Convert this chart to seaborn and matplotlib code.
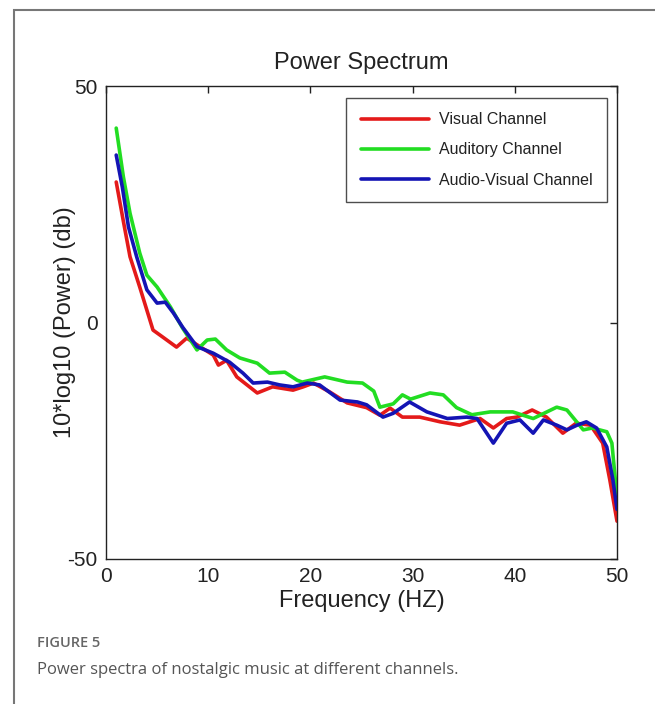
import matplotlib
matplotlib.use("Agg")
import matplotlib.pyplot as plt
import seaborn as sns
import pandas as pd
from matplotlib.patches import Rectangle

# ---- data ----
visual_x = [1.0, 1.7, 2.35, 3.3, 4.6, 5.5, 6.9, 7.9, 8.9, 10.5, 11.0, 11.8, 12.8, 14.8, 16.3, 18.3,
            19.3, 20.3, 21.9, 23.6, 25.5, 26.8, 27.8, 29.0, 30.7, 32.7, 34.6, 36.6, 37.9, 39.2,
            40.2, 41.7, 43.1, 44.7, 46.0, 47.4, 48.6, 49.3, 50.0]
visual_y = [29.7, 21.4, 13.9, 7.5, -1.6, -3.0, -5.2, -3.3, -4.7, -6.9, -9.0, -8.0, -11.5, -14.9, -13.6, -14.3,
            -13.6, -12.8, -14.7, -17.0, -18.0, -19.6, -18.1, -20.0, -20.0, -21.0, -21.7, -20.3, -22.3, -20.3,
            -20.0, -18.5, -20.0, -23.4, -21.3, -21.7, -25.5, -33.3, -42.0]

auditory_x = [1.0, 1.7, 2.35, 3.3, 4.0, 5.0, 6.3, 7.5, 8.9, 9.9, 10.7, 11.8, 13.1, 14.8, 16.0, 17.5,
              18.7, 19.2, 21.4, 23.6, 25.1, 26.2, 26.8, 28.1, 29.0, 29.8, 31.7, 33.0, 34.3, 35.8,
              37.6, 39.8, 41.8, 44.1, 45.1, 46.7, 47.6, 49.0, 49.5, 50.0]
auditory_y = [41.1, 30.8, 23.1, 14.7, 10.0, 7.5, 3.3, -1.2, -5.8, -3.7, -3.5, -5.8, -7.5, -8.6, -10.7, -10.5,
              -12.2, -12.6, -11.5, -12.6, -12.8, -14.5, -17.9, -17.2, -15.3, -16.2, -14.9, -15.3, -18.0, -19.5,
              -18.9, -18.9, -20.3, -17.9, -18.5, -22.7, -22.3, -23.1, -25.5, -37.0]

audiovisual_x = [1.0, 1.6, 2.2, 3.0, 4.0, 5.0, 5.8, 6.6, 7.5, 8.9, 10.5, 12.1, 13.4, 14.4, 15.8, 17.0,
                 18.3, 19.7, 20.9, 22.9, 24.6, 25.5, 27.1, 28.1, 29.7, 31.4, 33.4, 35.3, 36.3, 37.9,
                 39.2, 40.5, 41.8, 42.8, 44.1, 45.1, 46.1, 47.0, 48.0, 49.0, 49.6, 50.0]
audiovisual_y = [35.4, 28.6, 20.2, 13.9, 6.9, 4.1, 4.3, 2.0, -1.0, -5.1, -6.5, -8.4, -10.7, -12.8, -12.6, -13.2,
                 -13.6, -12.8, -13.2, -16.4, -16.8, -17.4, -20.0, -19.2, -16.8, -18.9, -20.3, -20.0, -20.3, -25.5,
                 -21.3, -20.6, -23.4, -20.6, -21.7, -22.7, -21.7, -21.0, -22.3, -26.3, -33.3, -39.5]

series_names = ["Visual Channel", "Auditory Channel", "Audio-Visual Channel"]
series_colors = ["#e41a1a", "#22dd22", "#1414b4"]

x_ticks = [0, 10, 20, 30, 40, 50]
y_ticks = [-50, 0, 50]

frames = []
for name, xs, ys in zip(series_names,
                        [visual_x, auditory_x, audiovisual_x],
                        [visual_y, auditory_y, audiovisual_y]):
    frames.append(pd.DataFrame({"freq": xs, "power": ys, "channel": name}))
df = pd.concat(frames, ignore_index=True)

sns.set_theme(style="white")
plt.rcParams["font.family"] = ["Liberation Sans", "DejaVu Sans"]
plt.rcParams["axes.unicode_minus"] = False

W, H = 655, 704
fig = plt.figure(figsize=(W / 100, H / 100), dpi=100)
ax = fig.add_axes([106 / W, 1 - 559 / H, 511 / W, 473 / H])

sns.lineplot(data=df, x="freq", y="power", hue="channel", hue_order=series_names,
             palette=series_colors, sort=False, estimator=None, linewidth=2.6, ax=ax)

ax.set_xlim(0, 50)
ax.set_ylim(-50, 50)
ax.set_xticks(x_ticks)
ax.set_yticks(y_ticks)
ax.tick_params(axis="both", direction="in", length=5, width=1, colors="#222222",
               labelsize=15, labelcolor="#222222", pad=6, top=True, right=True)
for s in ax.spines.values():
    s.set_color("#222222")
    s.set_linewidth(1.0)
ax.set_title("Power Spectrum", fontsize=17, color="#222222", pad=12)
ax.set_xlabel("Frequency (HZ)", fontsize=17, color="#222222", labelpad=3)
ax.set_ylabel("10*log10 (Power) (db)", fontsize=17, color="#222222", labelpad=-6)

leg = ax.legend(loc="upper right", bbox_to_anchor=(0.98, 0.975), borderaxespad=0.0,
                fontsize=11.5, frameon=True, fancybox=False, handlelength=4.3,
                handletextpad=0.6, borderpad=0.9, labelspacing=0.95, alignment="right")
leg.get_frame().set_edgecolor("#222222")
leg.get_frame().set_linewidth(1.0)
for t in leg.get_texts():
    t.set_color("#222222")

# page frame (top and left border)
fig.patches.append(Rectangle((14 / W, -0.1), 1.2, 1 - 10 / H + 0.1, transform=fig.transFigure,
                             fill=False, edgecolor="#777777", linewidth=1.5, zorder=0))

fig.text(37 / W, 1 - 643 / H, "FIGURE 5", fontsize=10.5, color="#666666",
         family=["Open Sans", "DejaVu Sans"], fontweight="semibold", va="center")
fig.text(37 / W, 1 - 670 / H, "Power spectra of nostalgic music at different channels.",
         fontsize=12, color="#555555", family=["Open Sans", "DejaVu Sans"], va="center")

fig.savefig("out.png", dpi=100)
